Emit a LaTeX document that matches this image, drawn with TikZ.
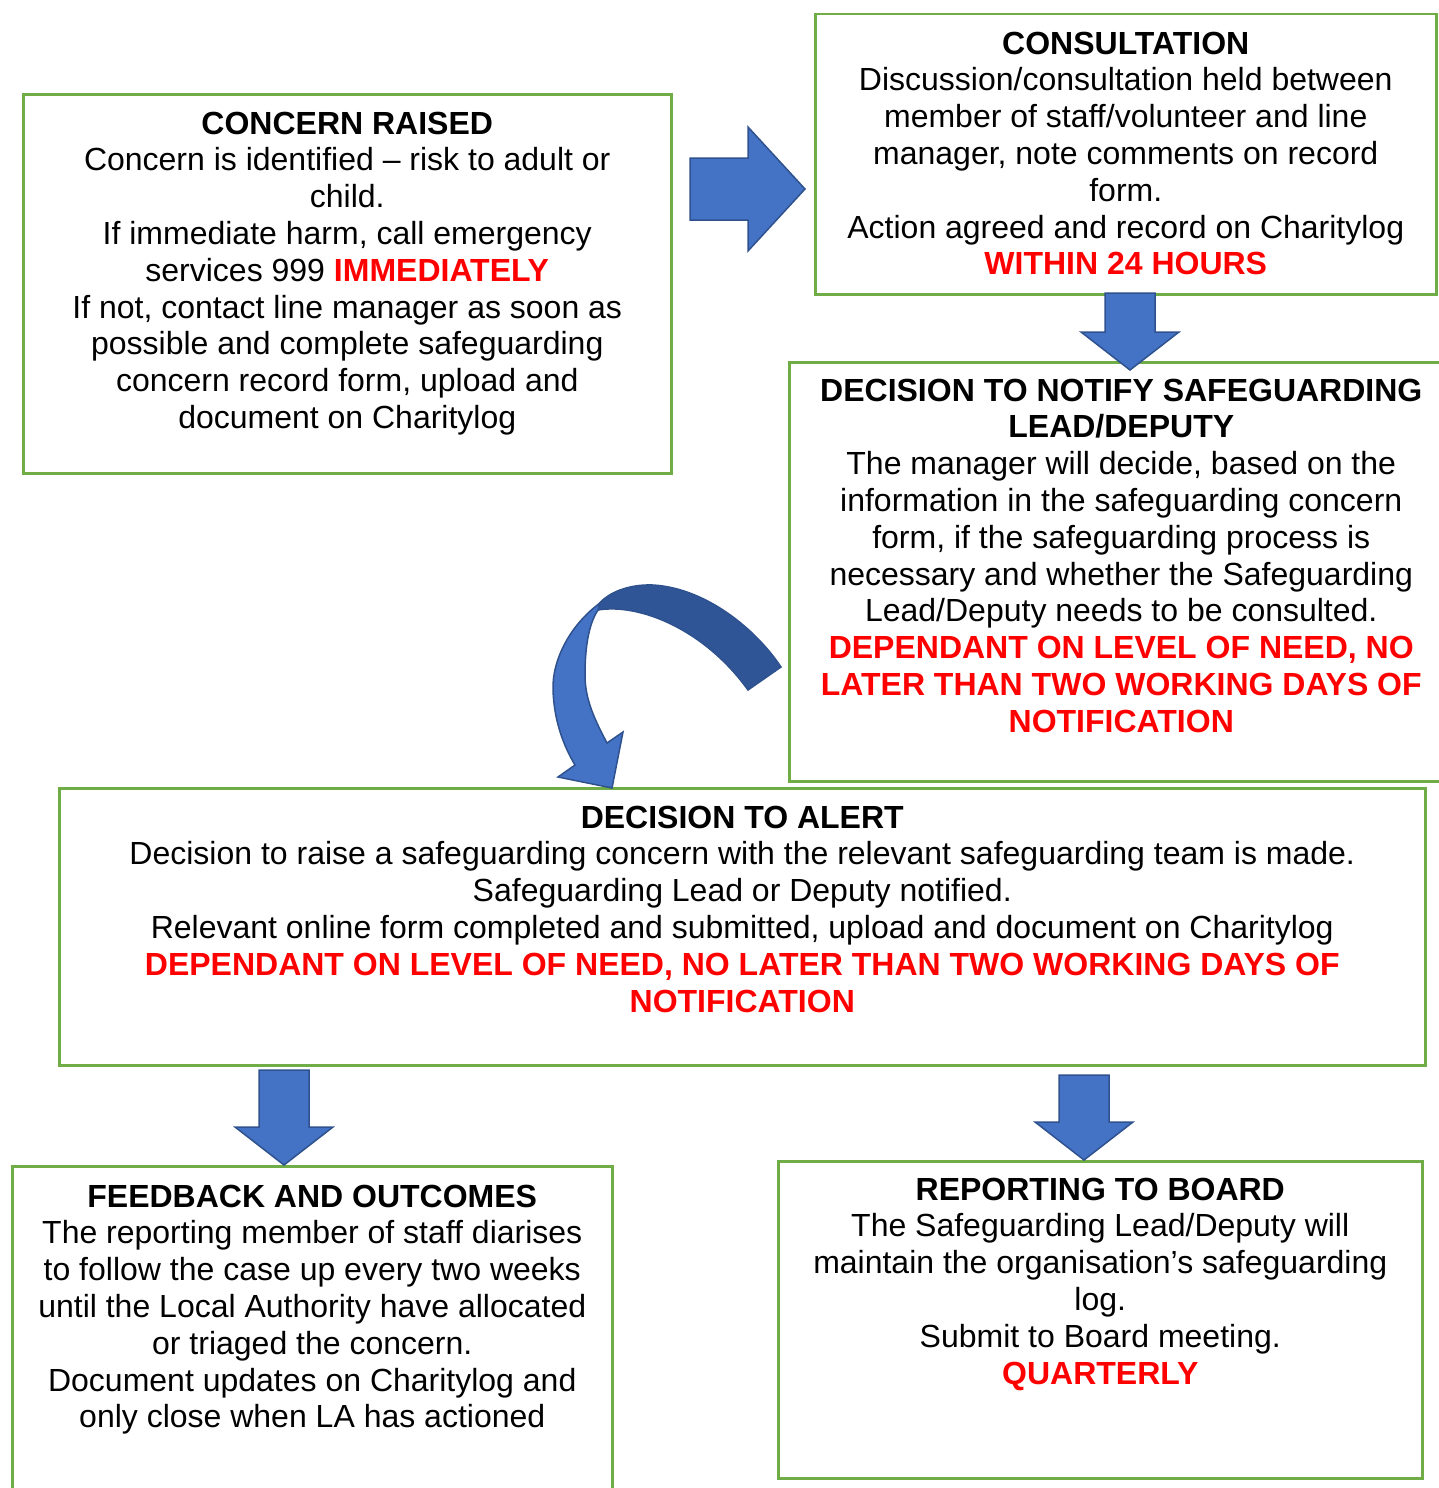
\documentclass[tikz,border=0pt]{standalone}
\usepackage{fontspec}
\setmainfont{Liberation Sans}
\usetikzlibrary{positioning, calc}
\definecolor{boxgreen}{HTML}{70AD47}
\definecolor{arrowblue}{HTML}{4472C4}
\definecolor{arrowdark}{HTML}{2F5597}
\definecolor{arrowline}{HTML}{2F528F}
\definecolor{alertred}{HTML}{FF0000}
\tikzstyle{flowbox} = [rectangle, draw=boxgreen, line width=2.5pt, inner sep=0pt]
\tikzstyle{boxtext} = [anchor=north, align=center, inner sep=0pt, font=\fontsize{32}{36.8}\selectfont]
\tikzstyle{blockarrow} = [fill=arrowblue, draw=arrowline, line width=1.5pt, line join=miter]
\newcommand{\urgent}[1]{\textcolor{alertred}{\textbf{#1}}}
% fat arrow pointing down, from #1 to tip #2
\newcommand{\blockdown}[2]{%
  \draw[blockarrow] ($(#1)+(-25,0)$) -- ($(#1)+(25,0)$) -- ($(#2)+(25,-38)$) -- ($(#2)+(49,-38)$)
    -- (#2) -- ($(#2)+(-49,-38)$) -- ($(#2)+(-25,-38)$) -- cycle;}
% fat arrow pointing right, from #1 to tip #2
\newcommand{\blockright}[2]{%
  \draw[blockarrow] ($(#1)+(0,-31)$) -- ($(#2)+(-57,-31)$) -- ($(#2)+(-57,-62)$) -- (#2)
    -- ($(#2)+(-57,62)$) -- ($(#2)+(-57,31)$) -- ($(#1)+(0,31)$) -- cycle;}

\begin{document}
\begin{tikzpicture}[x=1pt, y=-1pt]
        \useasboundingbox (0,0) rectangle (1438,1488);

        % Boxes
        \node (raised) [flowbox, minimum width=648, minimum height=379, anchor=north west] at (22,93) {};
        \node (consult) [flowbox, minimum width=621, minimum height=280, anchor=north west] at (814,13) {};
        \node (notify) [flowbox, minimum width=664, minimum height=419, anchor=north west] at (788,361) {};
        \node (alert) [flowbox, minimum width=1366, minimum height=277, anchor=north west] at (58,787) {};
        \node (feedback) [flowbox, minimum width=600, minimum height=340, anchor=north west] at (11,1165) {};
        \node (board) [flowbox, minimum width=644, minimum height=317, anchor=north west] at (777,1160) {};

        % Texts
        \node (raisedtxt) [boxtext] at ($(raised.north)+(0,18.5)$) {\textbf{CONCERN RAISED}\\
            Concern is identified -- risk to adult or\\ child.\\
            If immediate harm, call emergency\\ services 999 \urgent{IMMEDIATELY}\\
            If not, contact line manager as soon as\\ possible and complete safeguarding\\
            concern record form, upload and\\ document on Charitylog};
        \node (consulttxt) [boxtext] at ($(consult.north)+(0,18.5)$) {\textbf{CONSULTATION}\\
            Discussion/consultation held between\\ member of staff/volunteer and line\\
            manager, note comments on record\\ form.\\
            Action agreed and record on Charitylog\\ \urgent{WITHIN 24 HOURS}};
        \node (notifytxt) [boxtext] at ($(notify.north)+(0,17.5)$) {\textbf{DECISION TO NOTIFY SAFEGUARDING}\\ \textbf{LEAD/DEPUTY}\\
            The manager will decide, based on the\\ information in the safeguarding concern\\
            form, if the safeguarding process is\\ necessary and whether the Safeguarding\\
            Lead/Deputy needs to be consulted.\\
            \urgent{DEPENDANT ON LEVEL OF NEED, NO}\\ \urgent{LATER THAN TWO WORKING DAYS OF}\\
            \urgent{NOTIFICATION}};
        \node (alerttxt) [boxtext] at ($(alert.north)+(0,18.5)$) {\textbf{DECISION TO ALERT}\\
            Decision to raise a safeguarding concern with the relevant safeguarding team is made.\\
            Safeguarding Lead or Deputy notified.\\
            Relevant online form completed and submitted, upload and document on Charitylog\\
            \urgent{DEPENDANT ON LEVEL OF NEED, NO LATER THAN TWO WORKING DAYS OF}\\
            \urgent{NOTIFICATION}};
        \node (feedbacktxt) [boxtext] at ($(feedback.north)+(0,19.5)$) {\textbf{FEEDBACK AND OUTCOMES}\\
            The reporting member of staff diarises\\ to follow the case up every two weeks\\
            until the Local Authority have allocated\\ or triaged the concern.\\
            Document updates on Charitylog and\\ only close when LA has actioned};
        \node (boardtxt) [boxtext] at ($(board.north)+(0,17.5)$) {\textbf{REPORTING TO BOARD}\\
            The Safeguarding Lead/Deputy will\\ maintain the organisation’s safeguarding\\
            log.\\ Submit to Board meeting.\\ \urgent{QUARTERLY}};

        % Arrow ends
        \coordinate (r1s) at (690,189);
        \coordinate (r1e) at (805,189);
        \coordinate (d1s) at (1130,293);
        \coordinate (d1e) at (1130,370);
        \coordinate (d2s) at (284,1070);
        \coordinate (d2e) at (284,1165);
        \coordinate (d3s) at (1084,1075);
        \coordinate (d3e) at (1084,1160);

        % Block arrows
        \blockright{r1s}{r1e}
        \blockdown{d1s}{d1e}
        \blockdown{d2s}{d2e}
        \blockdown{d3s}{d3e}

        % Curved arrow from notify to alert
        \draw[blockarrow, fill=arrowdark] (781,667) .. controls (755,628) and (705,588) .. (653,585)
            .. controls (630,584) and (608,592) .. (598,605) -- (598,610)
            .. controls (640,603) and (705,630) .. (748,690) -- cycle;
        \draw[blockarrow] (600,603) .. controls (570,625) and (552,660) .. (553,690)
            .. controls (554,720) and (563,745) .. (575,765) -- (558,777) -- (612,788) -- (623,732) -- (607,743)
            .. controls (595,720) and (585,700) .. (585,675) .. controls (585,650) and (588,625) .. (598,610) -- cycle;

\end{tikzpicture}
\end{document}
